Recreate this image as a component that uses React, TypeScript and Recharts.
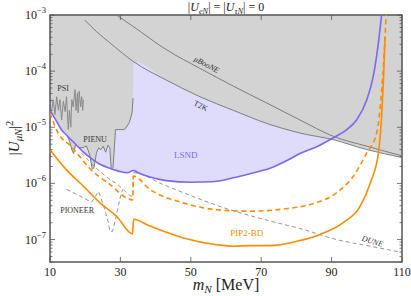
import React from "react";
import { ComposedChart, Area, Line, XAxis, YAxis, ReferenceArea, ReferenceDot } from "recharts";

// mass grid / mixing values (m in MeV, U = |U_muN|^2)
const lsndM = [10, 11.5, 13.2, 15, 17, 19.5, 21.7, 24.2, 27, 30, 32, 33.7, 35, 38.4, 43, 50, 56, 62.1, 67, 72.5, 78, 81, 85.8, 90.5, 94.3, 97.1, 100, 101.8, 103.3, 104.2];
const lsndU = [2.0e-5, 1.4e-5, 9.1e-6, 6.9e-6, 5.2e-6, 3.6e-6, 2.8e-6, 2.2e-6, 1.86e-6, 1.62e-6, 1.55e-6, 1.7e-6, 1.55e-6, 1.3e-6, 1.12e-6, 1.05e-6, 1.07e-6, 1.26e-6, 1.5e-6, 1.86e-6, 2.7e-6, 3.4e-6, 4.5e-6, 6.5e-6, 9.1e-6, 1.35e-5, 3.1e-5, 7.9e-5, 3.2e-4, 1.0e-3];

const t2kM = [19.9, 23.3, 27, 33.7, 43.1, 52.6, 62.1, 71.6, 81, 90.5, 100, 110];
const t2kU = [8.1e-4, 5.0e-4, 3.2e-4, 1.48e-4, 6.9e-5, 3.5e-5, 2.0e-5, 1.17e-5, 7.9e-6, 6.0e-6, 4.0e-6, 2.9e-6];

const booneM = [28.9, 33.7, 43.1, 52.6, 62.1, 71.6, 81, 90.5, 100, 110];
const booneU = [1.0e-3, 6.2e-4, 2.4e-4, 1.12e-4, 5.4e-5, 2.7e-5, 1.35e-5, 6.9e-6, 4.6e-6, 3.1e-6];

const psiM = [10.5, 10.9, 11.4, 11.9, 12.4, 12.8, 13.3, 13.8, 14.3, 14.7, 15.2, 15.5, 15.9, 16.2, 16.6, 17.1, 17.4, 17.8, 18.0, 18.3, 18.7, 19.0, 19.3, 19.5];
const psiU = [2.0e-5, 3.1e-5, 1.7e-5, 3.5e-5, 2.0e-5, 3.1e-5, 1.35e-5, 2.9e-5, 1.9e-5, 3.5e-5, 9.1e-6, 2.0e-5, 1.0e-5, 3.1e-5, 2.3e-5, 4.7e-5, 2.0e-5, 4.1e-5, 1.8e-5, 4.4e-5, 2.3e-5, 3.5e-5, 2.0e-5, 3.1e-5];

const pienuM = [15.0, 15.6, 16.2, 16.7, 17.3, 18.0, 19.0, 20.4, 21.3, 22.0, 22.5, 23.2, 23.8, 24.5, 25.1, 25.8, 26.5, 27.0, 27.4, 27.9, 28.3, 28.5, 28.6, 31.2, 32.5, 33.3, 33.6];
const pienuU = [6.9e-6, 5.5e-6, 4.0e-6, 3.4e-6, 5.0e-6, 4.4e-6, 4.3e-6, 4.6e-6, 3.2e-6, 1.8e-6, 1.9e-6, 3.5e-6, 4.3e-6, 4.0e-6, 4.6e-6, 3.6e-6, 4.8e-6, 4.3e-6, 1.8e-6, 1.9e-6, 4.5e-6, 7.0e-6, 9.1e-6, 9.1e-6, 1.2e-5, 1.8e-5, 3.3e-5];

const pipM = [10, 14.7, 19.5, 24.2, 28.9, 33.5, 33.7, 38.4, 47.9, 57.3, 62.1, 66.9, 72.5, 80.1, 86.7, 93.3, 98.1, 101, 103.3, 104.2, 104.7, 105.2];
const pipU = [4.0e-6, 1.74e-6, 8.9e-7, 4.5e-7, 2.6e-7, 1.26e-7, 2.3e-7, 1.74e-7, 1.07e-7, 8.1e-8, 7.6e-8, 7.8e-8, 7.8e-8, 9.3e-8, 1.23e-7, 2.0e-7, 3.9e-7, 1.02e-6, 3.5e-6, 1.55e-5, 6.2e-5, 4.1e-4];

const pipDashM = [10, 12.3, 16, 21.7, 26.5, 33.5, 33.7, 38.4, 47.9, 57.3, 66.8, 76.3, 83.9, 91.4, 96.2, 100, 102.8, 104.7, 105.5];
const pipDashU = [1.8e-5, 7.9e-6, 4.6e-6, 1.74e-6, 1.02e-6, 5.1e-7, 1.35e-6, 7.8e-7, 4.5e-7, 3.4e-7, 3.2e-7, 3.5e-7, 4.2e-7, 6.8e-7, 1.35e-6, 3.5e-6, 7.9e-6, 1.2e-4, 1.0e-3];

const duneM = [18.9, 24.6, 29.8, 33.5, 33.7, 42.2, 51.7, 61.1, 70.6, 82, 91.4, 101, 110];
const duneU = [3.5e-6, 1.55e-6, 8.9e-7, 5.9e-7, 1.55e-6, 9.5e-7, 5.5e-7, 3.4e-7, 2.3e-7, 1.51e-7, 1.0e-7, 7.6e-8, 5.9e-8];

const pioneerM = [14.7, 18.5, 21.8, 23.8, 25.3, 26.5, 27.0, 27.8, 28.8, 29.8, 30.6];
const pioneerU = [7.8e-7, 6.0e-7, 4.6e-7, 7.2e-7, 3.9e-7, 2.1e-7, 1.4e-7, 1.4e-7, 2.6e-7, 5.1e-7, 7.8e-7];

const xTicks = [10, 30, 50, 70, 90, 110];
const yDecades = [1e-7, 1e-6, 1e-5, 1e-4, 1e-3];

const YMIN = Math.pow(10, -7.4);
const YMAX = 1e-3;

// plot box in px (used only for the inward tick marks)
const PL = 50, PR = 402, PT = 15, PB = 262;
const FONT = "Liberation Serif, DejaVu Serif, Times New Roman, serif";
const AXC = "#555";

const pts = (ms: number[], us: number[]) => ms.map((m, i) => ({ m, u: us[i] }));

const yTicks: number[] = [];
yDecades.forEach((d) => {
  for (let k = 1; k <= 9; k++) {
    const v = (d / 10) * k;
    if (v >= YMIN && v <= YMAX) yTicks.push(v);
  }
});
yTicks.push(YMAX);

// lower edge of grey excluded region: LSND at low mass, PIENU, then T2K
const greyLow = [
  ...pts(lsndM, lsndU).filter((p) => p.m < 15),
  ...pts(pienuM, pienuU),
  ...pts(t2kM, t2kU).filter((p) => p.m >= 33.7),
].map((p) => ({ m: p.m, band: [p.u, YMAX] }));

const lsndBand = pts(lsndM, lsndU).map((p) => ({ m: p.m, band: [p.u, YMAX] }));

const YTick = (props: any) => {
  const { y, payload } = props;
  const lg = Math.log10(payload.value);
  const e = Math.round(lg);
  const major = Math.abs(lg - e) < 1e-6;
  const len = major ? 5 : 2.5;
  return (
    <g>
      <line x1={PL} x2={PL + len} y1={y} y2={y} stroke={AXC} strokeWidth={0.8} />
      <line x1={PR} x2={PR - len} y1={y} y2={y} stroke={AXC} strokeWidth={0.8} />
      {major && (
        <text x={PL - 4} y={y + 4} textAnchor="end" style={{ fontFamily: FONT }} fontSize={12} fill="#222">
          10
          <tspan dy={-6} fontSize={8.5}>
            {"\u2212" + -e}
          </tspan>
        </text>
      )}
    </g>
  );
};

const XTick = (props: any) => {
  const { x, payload } = props;
  return (
    <g>
      <line x1={x} x2={x} y1={PB} y2={PB - 5} stroke={AXC} strokeWidth={0.8} />
      <line x1={x} x2={x} y1={PT} y2={PT + 5} stroke={AXC} strokeWidth={0.8} />
      <text x={x} y={PB + 14} textAnchor="middle" style={{ fontFamily: FONT }} fontSize={12} fill="#222">
        {payload.value}
      </text>
    </g>
  );
};

const note = (m: number, u: number, text: string, color: string, size: number, rot = 0, italic = false) => (
  <ReferenceDot
    key={text}
    x={m}
    y={u}
    r={0}
    shape={(p: any) => (
      <text
        x={p.cx}
        y={p.cy}
        textAnchor="middle"
        dominantBaseline="central"
        transform={rot ? `rotate(${rot} ${p.cx} ${p.cy})` : undefined}
        style={{ fontFamily: FONT }}
        fontSize={size}
        fontStyle={italic ? "italic" : "normal"}
        fill={color}
      >
        {text}
      </text>
    )}
  />
);

const sub = { fontSize: "0.7em", verticalAlign: "-0.3em" } as const;

export default function App() {
  return (
    <div style={{ position: "absolute", left: 0, top: 0, width: 411, height: 296, background: "#fff", fontFamily: FONT }}>
      <ComposedChart width={411} height={296} margin={{ top: 15, right: 9, left: 0, bottom: 0 }}>
        <XAxis
          dataKey="m"
          type="number"
          domain={[10, 110]}
          ticks={xTicks}
          interval={0}
          axisLine={false}
          tickLine={false}
          height={34}
          tick={<XTick />}
          allowDataOverflow
        />
        <YAxis
          type="number"
          scale="log"
          domain={[YMIN, YMAX]}
          ticks={yTicks}
          interval={0}
          axisLine={false}
          tickLine={false}
          width={50}
          tick={<YTick />}
          allowDataOverflow
        />

        <Area data={lsndBand} dataKey="band" type="monotone" fill="#dedbfb" fillOpacity={1} stroke="none" isAnimationActive={false} />
        <Area data={greyLow} dataKey="band" type="monotone" fill="#d3d3d3" fillOpacity={1} stroke="none" isAnimationActive={false} />

        <Line data={pts(pienuM, pienuU)} dataKey="u" type="linear" stroke="#7f7f7f" strokeWidth={1} dot={false} activeDot={false} isAnimationActive={false} />
        <Line data={pts(psiM, psiU)} dataKey="u" type="linear" stroke="#8a8a8a" strokeWidth={1} dot={false} activeDot={false} isAnimationActive={false} />
        <Line data={pts(t2kM, t2kU)} dataKey="u" type="monotone" stroke="#737373" strokeWidth={0.9} dot={false} activeDot={false} isAnimationActive={false} />
        <Line data={pts(booneM, booneU)} dataKey="u" type="monotone" stroke="#737373" strokeWidth={0.9} dot={false} activeDot={false} isAnimationActive={false} />

        <Line data={pts(duneM, duneU)} dataKey="u" type="monotone" stroke="#888" strokeWidth={0.9} strokeDasharray="4 3" dot={false} activeDot={false} isAnimationActive={false} />
        <Line data={pts(pioneerM, pioneerU)} dataKey="u" type="linear" stroke="#888" strokeWidth={0.9} strokeDasharray="4 3" dot={false} activeDot={false} isAnimationActive={false} />

        <Line data={pts(lsndM, lsndU)} dataKey="u" type="monotone" stroke="#7b68ee" strokeWidth={1.6} dot={false} activeDot={false} isAnimationActive={false} />
        <Line data={pts(pipDashM, pipDashU)} dataKey="u" type="monotone" stroke="#ff8c00" strokeWidth={1.6} strokeDasharray="5 3.5" dot={false} activeDot={false} isAnimationActive={false} />
        <Line data={pts(pipM, pipU)} dataKey="u" type="monotone" stroke="#ff8c00" strokeWidth={1.6} dot={false} activeDot={false} isAnimationActive={false} />

        <ReferenceArea x1={10} x2={110} y1={YMIN} y2={YMAX} fill="none" stroke={AXC} strokeWidth={1.5} />

        {note(13.7, 5.0e-5, "PSI", "#333", 8)}
        {note(22.8, 6.0e-6, "PIENU", "#333", 8)}
        {note(48.6, 3.2e-6, "LSND", "#7b68ee", 9)}
        {note(17.7, 3.3e-7, "PIONEER", "#333", 8)}
        {note(65.9, 1.3e-7, "PIP2-BD", "#ff8c00", 9)}
        {note(101.6, 9.3e-8, "DUNE", "#333", 8, 17, true)}
        {note(54.5, 1.3e-4, "\u03bcBooNE", "#333", 8, 28, true)}
        {note(52.8, 2.4e-5, "T2K", "#333", 8, 27)}
      </ComposedChart>

      <div style={{ position: "absolute", left: 0, top: 0, width: 452, textAlign: "center", fontSize: 12, lineHeight: "14px", color: "#222" }}>
        |<i>U</i>
        <span style={sub}>
          <i>eN</i>
        </span>
        | = |<i>U</i>
        <span style={sub}>
          <i>{"\u03c4N"}</i>
        </span>
        | = 0
      </div>

      <div style={{ position: "absolute", left: 0, top: 276, width: 452, textAlign: "center", fontSize: 16, lineHeight: "18px", color: "#222" }}>
        <i>m</i>
        <span style={sub}>
          <i>N</i>
        </span>{" "}
        [MeV]
      </div>

      <div
        style={{
          position: "absolute",
          left: -40,
          top: 128,
          width: 100,
          height: 20,
          textAlign: "center",
          fontSize: 15,
          lineHeight: "20px",
          color: "#222",
          transform: "rotate(-90deg)",
        }}
      >
        |<i>U</i>
        <span style={sub}>
          <i>{"\u03bcN"}</i>
        </span>
        |<span style={{ fontSize: "0.7em", verticalAlign: "0.6em" }}>2</span>
      </div>
    </div>
  );
}
